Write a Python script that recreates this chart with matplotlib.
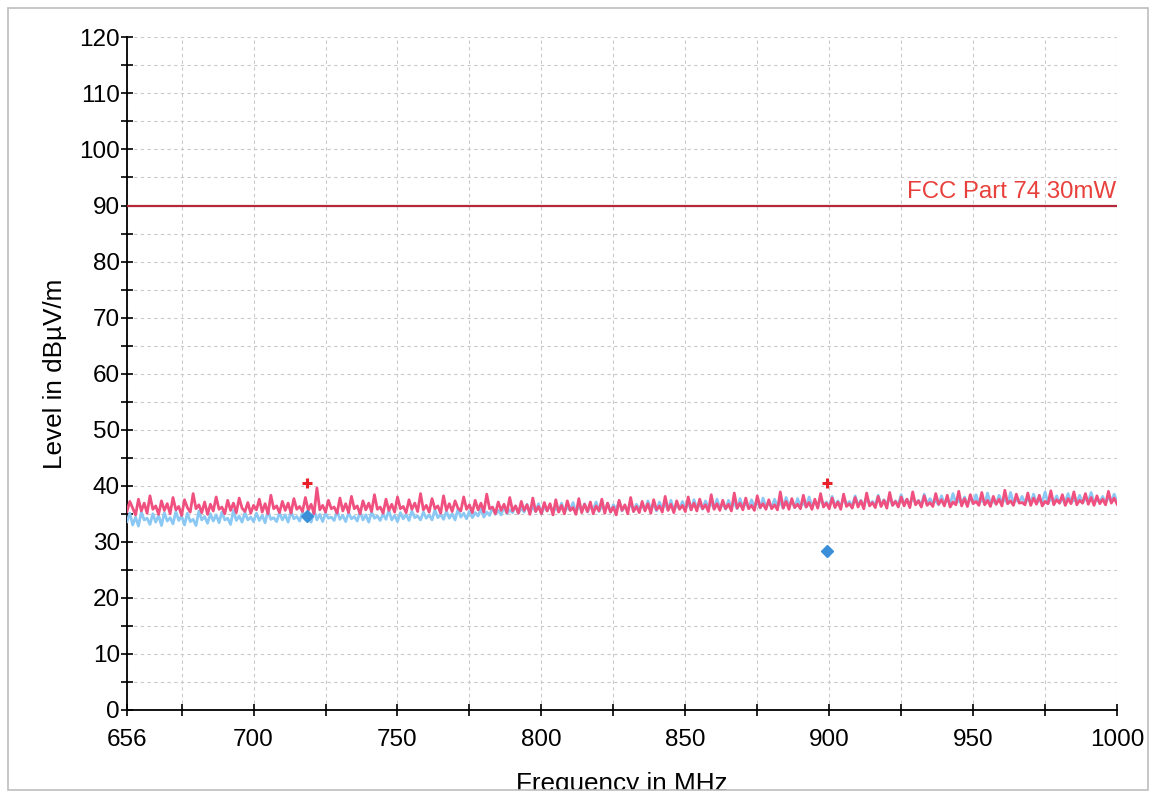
import numpy as np
import matplotlib
matplotlib.use("Agg")
import matplotlib.pyplot as plt
from matplotlib.patches import Rectangle
from matplotlib.ticker import MultipleLocator, FixedLocator

plt.rcParams['font.family'] = ['Liberation Sans', 'DejaVu Sans']

# --- data ------------------------------------------------------------------
# peak trace (pink), one reading per MHz from 656 to 1000 MHz
peak_dbuv = [
    35.4, 37.2, 36.0, 34.8, 37.6, 35.5, 36.9, 35.1, 38.2, 35.8, 36.4, 34.9, 37.3, 35.6, 36.8,
    35.0, 37.9, 35.7, 36.3, 34.7, 37.5, 36.1, 35.3, 38.6, 35.9, 36.6, 35.2, 37.1, 34.9, 36.7,
    35.5, 38.0, 35.8, 36.2, 35.0, 37.4, 35.6, 36.9, 35.2, 37.8, 36.0, 35.4, 37.0, 35.1, 36.5,
    35.7, 37.6, 35.3, 36.8, 35.0, 38.3, 35.9, 36.4, 35.2, 37.2, 35.6, 36.9, 35.1, 37.7, 35.8,
    36.3, 35.4, 37.9, 35.6, 36.7, 35.0, 39.6, 35.7, 36.5, 35.3, 37.4, 35.9, 36.2, 35.1, 37.8,
    35.5, 36.8, 35.2, 38.1, 35.9, 36.4, 35.0, 37.3, 35.7, 36.9, 35.4, 38.4, 35.8, 36.2, 35.1,
    37.6, 35.6, 36.7, 35.3, 38.0, 35.9, 36.3, 35.2, 37.5, 35.8, 36.9, 35.4, 38.6, 35.7, 36.5,
    35.3, 37.7, 35.9, 36.4, 35.1, 38.2, 35.6, 36.8, 35.4, 37.3, 36.0, 35.5, 38.0, 35.8, 36.6,
    35.2, 37.4, 35.7, 36.9, 35.3, 38.5, 35.9, 36.2, 35.0, 37.1, 35.6, 36.7, 35.2, 37.9, 35.5,
    36.4, 35.1, 37.2, 35.6, 36.6, 34.9, 37.8, 35.4, 36.3, 35.0, 37.0, 35.5, 36.8, 34.8, 37.5,
    35.3, 36.5, 35.0, 37.3, 35.6, 36.1, 34.9, 37.7, 35.2, 36.7, 35.4, 37.1, 35.0, 36.4, 35.5,
    37.6, 35.1, 36.9, 35.3, 36.2, 34.8, 37.4, 35.6, 36.6, 35.0, 37.9, 35.4, 36.3, 35.2, 37.2,
    35.5, 36.8, 35.1, 37.5, 35.7, 36.4, 35.3, 38.1, 35.6, 36.7, 35.2, 37.3, 35.8, 36.5, 35.4,
    38.0, 35.7, 36.9, 35.5, 37.6, 35.9, 36.6, 35.4, 38.4, 35.8, 36.8, 35.6, 37.4, 35.9, 36.7,
    35.5, 38.7, 36.0, 36.9, 35.7, 37.8, 35.9, 36.5, 35.6, 38.2, 36.1, 36.8, 35.8, 37.5, 35.9,
    36.6, 35.7, 38.9, 36.0, 37.2, 35.8, 37.7, 36.1, 36.7, 35.9, 38.3, 36.2, 37.0, 35.8, 37.6,
    36.0, 38.6, 36.2, 36.9, 35.9, 37.8, 36.1, 37.1, 35.8, 38.5, 36.3, 36.8, 36.0, 37.9, 36.2,
    37.3, 35.9, 38.7, 36.4, 37.0, 36.1, 38.1, 36.3, 37.4, 36.0, 38.8, 36.5, 37.2, 36.2, 38.0,
    36.4, 37.6, 36.1, 38.9, 36.6, 37.3, 36.2, 38.2, 36.5, 37.0, 36.3, 38.6, 36.7, 37.5, 36.4,
    38.3, 36.2, 37.1, 36.6, 39.0, 36.4, 37.7, 36.3, 38.4, 36.8, 37.2, 36.5, 38.8, 36.6, 37.4,
    36.3, 38.1, 36.7, 37.6, 36.4, 39.2, 36.8, 37.3, 36.5, 38.5, 36.9, 37.0, 36.6, 38.7, 36.5,
    37.8, 36.7, 38.3, 36.4, 37.2, 36.8, 39.1, 36.6, 37.5, 36.9, 38.4, 36.5, 37.7, 36.8, 38.9,
    36.6, 37.4, 36.9, 38.6, 36.7, 37.9, 36.5, 38.2, 36.8, 37.6, 36.6, 39.0, 36.9, 37.8, 36.7,
]

# average trace (light blue), same frequency grid
avg_dbuv = [
    33.6, 35.1, 33.0, 34.4, 32.8, 35.3, 33.9, 34.2, 33.1, 35.0, 33.5, 34.7, 32.9, 35.2, 33.7,
    34.3, 33.2, 35.4, 33.8, 34.6, 33.0, 35.1, 33.6, 34.0, 32.9, 35.5, 33.9, 34.5, 33.3, 35.0,
    33.7, 34.8, 33.4, 35.3, 33.9, 34.2, 33.1, 35.6, 33.8, 34.6, 33.5, 35.2, 33.9, 34.4, 33.6,
    35.1, 33.8, 34.7, 33.4, 35.5, 34.0, 34.3, 33.6, 35.2, 33.9, 34.8, 33.5, 35.4, 34.1, 34.5,
    33.7, 35.3, 34.0, 34.6, 33.5, 35.6, 33.9, 34.9, 33.6, 35.1, 34.2, 34.4, 33.8, 35.5, 34.0,
    34.7, 33.6, 35.2, 34.1, 34.5, 33.7, 35.4, 33.9, 34.8, 33.5, 35.3, 34.2, 34.6, 33.8, 35.0,
    34.0, 35.6, 33.9, 34.7, 33.6, 35.2, 34.1, 34.9, 33.8, 35.5, 34.3, 34.6, 33.9, 35.3, 34.2,
    34.8, 33.9, 35.7, 34.3, 34.9, 34.0, 35.4, 34.2, 35.0, 33.9, 35.8, 34.4, 35.1, 34.1, 35.5,
    34.3, 35.2, 34.6, 35.9, 34.4, 35.3, 34.7, 36.1, 34.9, 35.6, 34.8, 36.3, 35.0, 35.7, 35.2,
    36.4, 35.1, 36.0, 35.3, 36.7, 35.2, 36.2, 35.4, 36.8, 35.0, 36.3, 35.5, 36.6, 35.2, 36.1,
    35.4, 36.9, 35.3, 36.2, 35.6, 37.0, 35.2, 36.5, 35.5, 36.8, 35.3, 36.3, 35.7, 37.1, 35.4,
    36.4, 35.6, 36.9, 35.3, 36.6, 35.8, 37.2, 35.5, 36.3, 35.7, 37.0, 35.4, 36.7, 35.9, 36.5,
    35.6, 37.3, 35.8, 36.6, 35.5, 37.1, 35.9, 36.8, 35.7, 37.4, 35.6, 36.5, 35.9, 37.2, 35.8,
    36.9, 35.7, 37.5, 36.0, 36.7, 35.8, 37.3, 36.1, 36.9, 35.9, 37.6, 36.0, 36.8, 35.8, 37.4,
    36.1, 37.0, 35.9, 37.7, 36.2, 36.9, 36.0, 37.5, 36.3, 37.1, 36.0, 37.8, 36.2, 36.9, 36.1,
    37.6, 36.3, 37.1, 36.0, 37.9, 36.4, 37.2, 36.1, 37.7, 36.3, 37.0, 36.2, 38.0, 36.4, 37.3,
    36.2, 37.8, 36.5, 37.1, 36.3, 38.1, 36.4, 37.3, 36.2, 37.9, 36.6, 37.2, 36.4, 38.2, 36.5,
    37.4, 36.3, 38.0, 36.6, 37.2, 36.5, 38.3, 36.4, 37.5, 36.7, 37.9, 36.5, 37.3, 36.6, 38.4,
    36.7, 37.6, 36.5, 38.1, 36.8, 37.4, 36.6, 38.5, 36.7, 37.7, 36.9, 37.3, 36.6, 38.2, 36.8,
    37.5, 36.7, 38.6, 36.9, 37.4, 36.8, 38.0, 36.6, 37.8, 36.9, 38.4, 36.7, 37.6, 36.8, 38.7,
    36.9, 37.3, 36.7, 38.3, 37.0, 37.6, 36.8, 38.8, 36.9, 37.5, 37.1, 38.1, 36.8, 37.7, 37.0,
    38.5, 36.9, 37.4, 37.1, 38.9, 36.8, 37.8, 37.0, 38.2, 36.9, 37.6, 37.2, 38.6, 36.9, 37.5,
    37.1, 38.3, 36.9, 37.7, 37.2, 38.8, 37.0, 37.4, 37.1, 38.1, 36.9, 37.9, 37.2, 38.5, 37.0,
]

# final measurement points
peak_pts_mhz = [718.5, 899.2]
peak_pts_dbuv = [40.5, 40.5]
avg_pts_mhz = [718.5, 899.2]
avg_pts_dbuv = [34.6, 28.3]

limit_name = "FCC Part 74 30mW"
limit_mhz = [656, 1000]
limit_dbuv = [90, 90]

x_ticklabels = [656, 700, 750, 800, 850, 900, 950, 1000]

freq_peak = np.linspace(656, 1000, len(peak_dbuv))
freq_avg = np.linspace(656, 1000, len(avg_dbuv))

# --- figure ---------------------------------------------------------------
fig = plt.figure(figsize=(11.54, 7.95), dpi=100)
ax = fig.add_axes([0.110, 0.107, 0.858, 0.846])

ax.plot(freq_avg, avg_dbuv, color='#8cc8f4', linewidth=2.0, zorder=3)
ax.plot(freq_peak, peak_dbuv, color='#f0507f', linewidth=2.0, zorder=4)

ax.plot(limit_mhz, limit_dbuv, color='#b5283a', linewidth=1.6, zorder=5)
ax.text(limit_mhz[1] - 0.5, limit_dbuv[1] + 0.5, limit_name, color='#e8413c',
        fontsize=17.3, ha='right', va='bottom', zorder=6)

ax.plot(peak_pts_mhz, peak_pts_dbuv, linestyle='none', marker='+',
        color='#e8202a', markersize=7, markeredgewidth=2.2, zorder=7)
ax.plot(avg_pts_mhz, avg_pts_dbuv, linestyle='none', marker='D',
        color='#3a8fd8', markersize=6.5, zorder=7)

ax.set_xlim(656, 1000)
ax.set_ylim(0, 120)

ax.xaxis.set_major_locator(FixedLocator(x_ticklabels))
ax.xaxis.set_minor_locator(FixedLocator(np.arange(675, 1001, 50)))
ax.yaxis.set_major_locator(MultipleLocator(10))
ax.yaxis.set_minor_locator(MultipleLocator(5))

ax.grid(True, which='both', color='#c9c9c9', linestyle=(0, (3, 3)), linewidth=0.8)
ax.set_axisbelow(True)

for side in ['top', 'right']:
    ax.spines[side].set_visible(False)
for side in ['left', 'bottom']:
    ax.spines[side].set_linewidth(1.3)

ax.tick_params(which='both', direction='inout', length=8, width=1.2,
               labelsize=17.5, colors='black')
ax.tick_params(axis='x', pad=10)
ax.tick_params(axis='y', pad=1)

ax.set_ylabel('Level in dBµV/m', fontsize=18.8, labelpad=9)
ax.set_xlabel('Frequency in MHz', fontsize=18.8, labelpad=15)

# outer frame of the screenshot; bottom edge cuts the x label
fig.patches.append(Rectangle((0, 0), 1, 0.006, transform=fig.transFigure,
                             facecolor='white', edgecolor='none', zorder=10))
fig.patches.append(Rectangle((0.007, 0.006), 0.988, 0.984, transform=fig.transFigure,
                             facecolor='none', edgecolor='#bdbdbd', linewidth=1.2,
                             zorder=11))

fig.savefig('out.png', dpi=100)
